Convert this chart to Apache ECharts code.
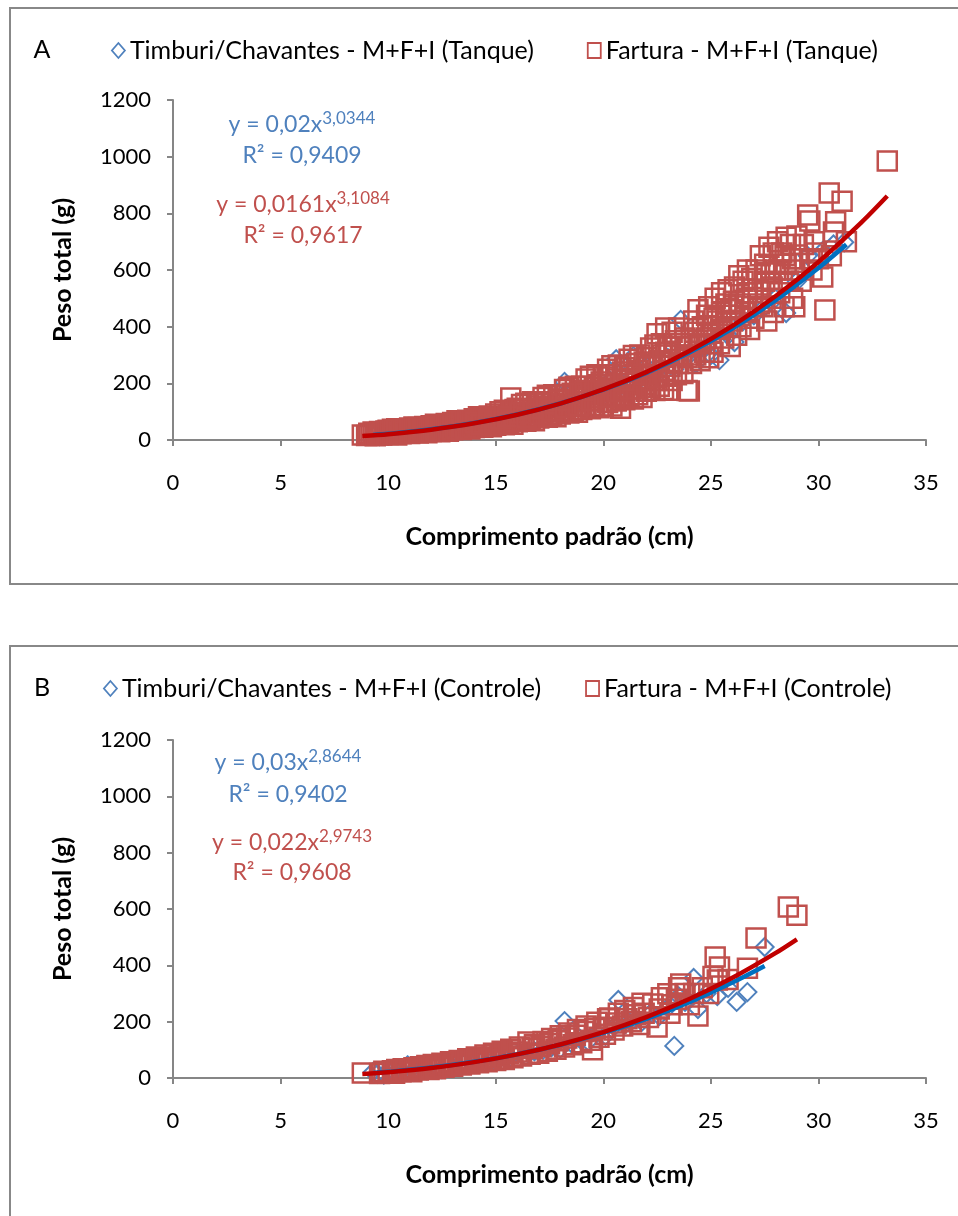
<!DOCTYPE html>
<html><head><meta charset="utf-8">
<script src="https://cdn.jsdelivr.net/npm/echarts@6/dist/echarts.min.js"></script>
<style>html,body{margin:0;padding:0;background:#fff}#c{width:958px;height:1216px}</style>
</head><body><div id="c"></div><script>
// ---------- DATA ----------
const seriesNamesA = ['Timburi/Chavantes - M+F+I (Tanque)', 'Fartura - M+F+I (Tanque)'];
const seriesNamesB = ['Timburi/Chavantes - M+F+I (Controle)', 'Fartura - M+F+I (Controle)'];
const xTickLabels = ['0','5','10','15','20','25','30','35'];
const yTickLabels = ['0','200','400','600','800','1000','1200'];
const eqA = [['y = 0,02x','3,0344','R² = 0,9409'], ['y = 0,0161x','3,1084','R² = 0,9617']];
const eqB = [['y = 0,03x','2,8644','R² = 0,9402'], ['y = 0,022x','2,9743','R² = 0,9608']];

const timburiA = [[9.3,18],[9.5,25],[9.6,14],[9.8,22],[10.0,30],[10.2,20],[10.5,28],[10.8,35],[11.0,24],[11.5,38],[12.0,32],[12.5,45],[13.0,40],[13.5,55],[14.0,50],[14.5,68],[15.0,62],[15.5,80],[16.0,75],[16.5,98],[17.0,90],[17.5,120],[18.0,110],[18.2,205],[18.5,140],[19.0,130],[19.5,170],[20.0,160],[20.3,210],[20.6,285],[20.8,190],[21.2,240],[21.4,296],[21.5,200],[22.0,260],[22.5,230],[23.0,290],[23.3,250],[23.6,424],[24.0,300],[24.3,270],[24.8,330],[25.0,300],[25.4,282],[25.8,370],[26.1,346],[26.5,420],[27.0,440],[27.5,470],[28.0,500],[28.5,448],[29.0,560],[29.5,650],[30.2,667],[30.7,690],[31.2,698]];

const farturaA = [[8.8,18],[9.0,16],[9.1,24],[9.2,20],[9.3,28],[9.4,15],[9.5,22],[9.6,30],[9.7,18],[9.8,26],[9.9,21],[9.9,32],
[10.0,19],[10.0,34],[10.1,26],[10.2,38],[10.2,21],[10.3,30],[10.4,18],[10.4,40],[10.5,27],[10.6,35],[10.6,22],[10.7,31],[10.8,24],[10.8,40],[10.9,29],[10.9,36],
[11.0,23],[11.0,42],[11.1,33],[11.2,27],[11.2,46],[11.3,37],[11.4,25],[11.4,44],[11.5,31],[11.6,40],[11.6,28],[11.7,48],[11.8,35],[11.8,26],[11.9,43],[11.9,32],
[12.0,30],[12.0,50],[12.1,40],[12.2,56],[12.2,33],[12.3,45],[12.4,29],[12.4,54],[12.5,38],[12.6,49],[12.6,34],[12.7,58],[12.8,42],[12.8,31],[12.9,52],[12.9,45],
[13.0,36],[13.0,62],[13.1,48],[13.2,68],[13.2,40],[13.3,55],[13.4,37],[13.4,66],[13.5,47],[13.6,60],[13.6,42],[13.7,70],[13.8,52],[13.8,39],[13.9,64],[13.9,56],
[14.0,44],[14.0,75],[14.1,58],[14.2,82],[14.2,48],[14.3,66],[14.4,45],[14.4,80],[14.5,57],[14.6,73],[14.6,50],[14.7,85],[14.8,63],[14.8,47],[14.9,78],[14.9,68],
[15.0,52],[15.0,92],[15.1,70],[15.2,100],[15.2,58],[15.3,80],[15.4,54],[15.4,105],[15.5,68],[15.6,88],[15.6,60],[15.7,148],[15.7,98],[15.8,75],[15.8,56],[15.9,108],[15.9,84],
[16.0,64],[16.0,112],[16.1,88],[16.2,125],[16.2,70],[16.3,98],[16.4,66],[16.4,130],[16.5,84],[16.6,108],[16.6,74],[16.7,135],[16.8,95],[16.8,68],[16.9,120],[16.9,102],
[17.0,78],[17.0,135],[17.1,104],[17.2,150],[17.2,85],[17.3,118],[17.4,80],[17.4,158],[17.5,100],[17.6,130],[17.6,88],[17.7,160],[17.8,114],[17.8,82],[17.9,145],[17.9,124],
[18.0,92],[18.0,160],[18.1,125],[18.2,178],[18.2,100],[18.3,140],[18.4,95],[18.4,186],[18.5,118],[18.6,155],[18.6,104],[18.7,190],[18.8,135],[18.8,98],[18.9,172],[18.9,148],
[19.0,108],[19.0,190],[19.1,148],[19.2,215],[19.2,118],[19.3,165],[19.4,110],[19.4,225],[19.5,138],[19.6,185],[19.6,122],[19.7,230],[19.8,160],[19.8,114],[19.9,205],[19.9,175],
[20.0,118],[20.0,222],[20.1,172],[20.2,250],[20.2,132],[20.3,195],[20.4,120],[20.4,262],[20.5,158],[20.6,215],[20.6,138],[20.7,265],[20.8,112],[20.8,185],[20.9,240],[20.9,150],
[21.0,142],[21.0,255],[21.1,200],[21.2,285],[21.2,155],[21.3,228],[21.4,145],[21.4,298],[21.5,180],[21.6,245],[21.6,160],[21.7,300],[21.8,210],[21.8,150],[21.9,275],[21.9,195],
[22.0,172],[22.0,290],[22.1,230],[22.2,325],[22.2,185],[22.3,262],[22.4,175],[22.4,335],[22.5,375],[22.5,210],[22.6,280],[22.6,190],[22.7,340],[22.8,245],[22.8,178],[22.9,310],[22.9,395],[22.9,225],
[23.0,176],[23.0,330],[23.1,260],[23.2,380],[23.2,210],[23.3,300],[23.4,230],[23.5,395],[23.5,270],[23.6,340],[23.7,235],[23.8,360],[23.9,175],[23.9,290],
[24.0,173],[24.0,330],[24.1,270],[24.2,420],[24.3,300],[24.4,460],[24.4,350],[24.5,280],[24.6,400],[24.7,310],[24.8,440],[24.8,360],[24.9,290],[24.9,470],
[25.0,380],[25.1,310],[25.2,500],[25.3,420],[25.4,340],[25.5,520],[25.5,450],[25.6,360],[25.7,480],[25.8,530],[25.8,400],[25.9,330],[25.9,460],
[26.0,420],[26.1,540],[26.2,370],[26.3,580],[26.3,480],[26.4,400],[26.5,560],[26.6,450],[26.7,600],[26.7,520],[26.8,390],[26.9,570],[26.9,470],
[27.0,430],[27.1,600],[27.2,530],[27.3,650],[27.4,470],[27.5,620],[27.5,560],[27.6,420],[27.7,680],[27.8,590],[27.8,500],[27.9,660],[27.9,450],
[28.0,600],[28.1,700],[28.2,520],[28.3,660],[28.4,470],[28.5,716],[28.5,620],[28.6,560],[28.7,690],[28.8,640],[28.8,500],[28.9,600],[28.9,470],
[29.0,720],[29.1,640],[29.2,560],[29.3,690],[29.5,794],[29.6,773],[29.6,640],[29.7,600],[29.8,700],[29.9,660],
[30.0,640],[30.2,575],[30.3,459],[30.5,872],[30.6,650],[30.7,734],[30.8,770],[31.1,843],[31.3,700],[33.2,985],
[14.05,62],[14.35,55],[14.65,70],[14.95,60],[15.25,75],[15.55,82],[15.85,66],[16.15,95],[16.45,80],[16.75,110],[17.05,92],[17.35,130],[17.65,105],[17.95,140],[18.25,115],[18.55,165],[18.85,122],[19.15,175],[19.45,140],[19.75,195],[20.05,150],[20.35,230],[20.65,170],[20.95,210],[21.25,180],[21.55,270],[21.85,230],[22.15,260],[22.45,220],[22.75,300],[23.05,240],[23.35,350],[23.65,300],[23.95,330],[24.25,380],[24.55,340],[24.85,400],[25.15,430],[25.45,390],[25.75,440],[26.05,490],[26.35,440],[26.65,500],[26.95,520],[27.25,480],[27.55,590],[27.85,540],[28.15,600],[28.45,650]];

const timburiB = [[9.3,22],[9.5,15],[9.8,12],[10.0,25],[10.3,18],[10.6,30],[10.9,45],[11.2,22],[11.5,35],[11.8,28],[12.2,40],[12.5,32],[12.8,48],[13.2,42],[13.6,55],[14.0,50],[14.4,62],[14.8,58],[15.2,72],[15.6,68],[16.0,85],[16.4,78],[16.8,95],[17.2,100],[17.6,110],[18.0,105],[18.2,202],[18.5,125],[18.9,140],[19.3,130],[19.7,160],[20.1,150],[20.4,175],[20.7,277],[21.0,190],[21.4,210],[21.8,200],[22.2,230],[22.6,220],[23.0,250],[23.3,114],[23.5,290],[23.8,270],[24.2,355],[24.4,245],[24.8,300],[25.3,291],[25.8,320],[26.2,270],[26.7,305],[27.5,465]];

const farturaB = [[8.8,18],[9.6,16],[9.8,24],[10.0,20],[10.2,26],[10.3,17],[10.4,30],[10.6,22],[10.7,33],[10.8,25],[11.0,30],[11.1,22],[11.2,36],[11.4,28],[11.5,40],[11.6,31],[11.8,44],[11.9,30],[12.0,38],[12.1,48],[12.2,33],[12.4,44],[12.5,52],[12.6,38],[12.8,48],[12.9,58],[13.0,42],[13.2,52],[13.3,62],[13.4,46],[13.6,57],[13.7,68],[13.8,50],[14.0,62],[14.1,75],[14.2,54],[14.4,68],[14.5,82],[14.6,58],[14.8,74],[14.9,88],[15.0,62],[15.2,80],[15.3,95],[15.4,66],[15.6,86],[15.7,102],[15.8,72],[16.0,92],[16.1,110],[16.2,78],[16.5,128],[16.6,84],[16.7,105],[16.8,118],[17.0,88],[17.1,112],[17.2,130],[17.4,95],[17.5,122],[17.6,140],[17.8,102],[17.9,132],[18.0,150],[18.2,110],[18.3,142],[18.4,160],[18.6,118],[18.7,152],[18.8,172],[19.0,125],[19.1,165],[19.2,185],[19.4,134],[19.5,100],[19.6,176],[19.7,198],[19.8,145],[20.0,180],[20.1,155],[20.2,210],[20.3,213],[20.5,170],[20.6,195],[20.7,230],[20.9,185],[21.0,240],[21.1,210],[21.3,200],[21.4,250],[21.5,225],[21.7,190],[21.8,265],[21.9,230],[22.1,215],[22.3,263],[22.5,181],[22.6,245],[22.7,285],[23.0,299],[23.1,230],[23.2,260],[23.4,280],[23.5,320],[23.6,334],[23.8,300],[24.0,260],[24.2,300],[24.4,220],[24.6,320],[24.9,300],[25.1,360],[25.2,430],[25.3,348],[25.4,394],[25.8,350],[26.7,390],[27.1,497],[28.6,607],[29.0,578]];

// power trendlines, sampled values
const trendTimburiA = [[9.3,17.4],[10,21.7],[12,37.6],[14,60.1],[16,90.1],[18,128.8],[20,177.4],[22,236.8],[24,308.5],[26,393.3],[28,492.6],[30,607],[31.3,690]];
const trendFarturaA = [[8.8,13.9],[10,20.7],[12,36.4],[14,58.8],[16,89.1],[18,128.5],[20,178.3],[22,239.7],[24,314.1],[26,402.9],[28,507.2],[30,628.4],[32,768],[33.2,861]];
const trendTimburiB = [[9.3,17.8],[10,22],[12,37],[14,57.6],[16,84.4],[18,118.2],[20,159.9],[22,210],[24,269.6],[26,339.2],[27.5,398]];
const trendFarturaB = [[8.8,14.2],[10,20.7],[12,35.7],[14,56.4],[16,83.9],[18,119.1],[20,162.9],[22,216.4],[24,280.4],[26,355.7],[28,443.3],[29,492.4]];

// ---------- STYLE ----------
const FONT = 'Lato, sans-serif';
const BLUE = '#4F81BD', RED = '#C0504D', BLUE_T = '#0070C0', RED_T = '#C00000';
const AXIS = '#868686';

function xAxisCfg(g){
  return {type:'value', gridIndex:g, min:0, max:35, interval:5,
    name:'Comprimento padrão (cm)', nameLocation:'middle', nameGap:84,
    nameTextStyle:{fontFamily:FONT, fontSize:25, fontWeight:'bold', color:'#000'},
    axisLine:{show:true, onZero:false, lineStyle:{color:AXIS, width:2}},
    axisTick:{show:true, inside:false, length:6, lineStyle:{color:AXIS, width:2}},
    axisLabel:{margin:32, fontFamily:FONT, fontSize:22, color:'#000', formatter:(v)=>xTickLabels[Math.round(v/5)]},
    splitLine:{show:false}};
}
function yAxisCfg(g){
  return {type:'value', gridIndex:g, min:0, max:1200, interval:200,
    name:'Peso total (g)', nameLocation:'middle', nameGap:98, nameRotate:90,
    nameTextStyle:{fontFamily:FONT, fontSize:25, fontWeight:'bold', color:'#000'},
    axisLine:{show:true, lineStyle:{color:AXIS, width:2}},
    axisTick:{show:true, inside:false, length:6, lineStyle:{color:AXIS, width:2}},
    axisLabel:{margin:22, fontFamily:FONT, fontSize:22, color:'#000', formatter:(v)=>yTickLabels[Math.round(v/200)]},
    splitLine:{show:false}};
}
function scatter(name, data, g, symbol, color, size, bw){
  return {type:'scatter', name, data, xAxisIndex:g, yAxisIndex:g, symbol, symbolSize:size,
    itemStyle:{color:'rgba(0,0,0,0)', borderColor:color, borderWidth:bw, opacity:1}, emphasis:{disabled:true}, silent:true};
}
function trend(data, g, color){
  return {type:'line', data, xAxisIndex:g, yAxisIndex:g, smooth:0.3, showSymbol:false, symbol:'none',
    lineStyle:{color, width:4.5}, emphasis:{disabled:true}, silent:true, z:3};
}
function legendCfg(names, left, top, gap){
  return {left, top, itemWidth:13, itemHeight:15, itemGap:gap, selectedMode:false, padding:0,
    textStyle:{fontFamily:FONT, fontSize:25, color:'#000'},
    data:[{name:names[0], icon:'diamond', itemStyle:{color:'rgba(0,0,0,0)', borderColor:BLUE, borderWidth:1.8, opacity:1}},
          {name:names[1], icon:'rect', itemStyle:{color:'rgba(0,0,0,0)', borderColor:RED, borderWidth:1.8, opacity:1}}]};
}
function eqText(x, y, base, sup, color){
  return {type:'text', x, y, silent:true, style:{text:'{b|'+base+'}{s|'+sup+'}', align:'center', verticalAlign:'middle',
    rich:{b:{fill:color, fontSize:23, fontFamily:FONT, lineHeight:26, verticalAlign:'bottom'},
          s:{fill:color, fontSize:17, fontFamily:FONT, verticalAlign:'top'}}}};
}
function plainText(x, y, t, color, size){
  return {type:'text', x, y, silent:true, style:{text:t, fill:color, fontSize:size, fontFamily:FONT, align:'center', verticalAlign:'middle'}};
}

const option = {
  animation:false,
  graphic:[
    {type:'rect', shape:{x:10, y:8, width:960, height:576}, style:{fill:'none', stroke:'#888', lineWidth:2}, silent:true},
    {type:'rect', shape:{x:10, y:646, width:960, height:600}, style:{fill:'none', stroke:'#888', lineWidth:2}, silent:true},
    plainText(42, 50, 'A', '#000', 25),
    plainText(42, 688, 'B', '#000', 25),
    eqText(302, 123, eqA[0][0], eqA[0][1], BLUE),
    plainText(302, 156, eqA[0][2], BLUE, 23),
    eqText(303, 203, eqA[1][0], eqA[1][1], RED),
    plainText(303, 236, eqA[1][2], RED, 23),
    eqText(288, 761, eqB[0][0], eqB[0][1], BLUE),
    plainText(288, 795, eqB[0][2], BLUE, 23),
    eqText(292, 841, eqB[1][0], eqB[1][1], RED),
    plainText(292, 873, eqB[1][2], RED, 23)
  ],
  legend:[legendCfg(seriesNamesA, 111, 38, 53), legendCfg(seriesNamesB, 103, 676, 44)],
  grid:[{left:173, top:100, width:753, height:340}, {left:173, top:740, width:753, height:338}],
  xAxis:[xAxisCfg(0), xAxisCfg(1)],
  yAxis:[yAxisCfg(0), yAxisCfg(1)],
  series:[
    scatter(seriesNamesA[0], timburiA, 0, 'diamond', BLUE, 18, 2),
    scatter(seriesNamesA[1], farturaA, 0, 'rect', RED, 19, 2.5),
    trend(trendTimburiA, 0, BLUE_T),
    trend(trendFarturaA, 0, RED_T),
    scatter(seriesNamesB[0], timburiB, 1, 'diamond', BLUE, 18, 2),
    scatter(seriesNamesB[1], farturaB, 1, 'rect', RED, 19, 2.5),
    trend(trendTimburiB, 1, BLUE_T),
    trend(trendFarturaB, 1, RED_T)
  ]
};
const chart = echarts.init(document.getElementById('c'), null, {renderer:'canvas'});
chart.setOption(option);
</script></body></html>
